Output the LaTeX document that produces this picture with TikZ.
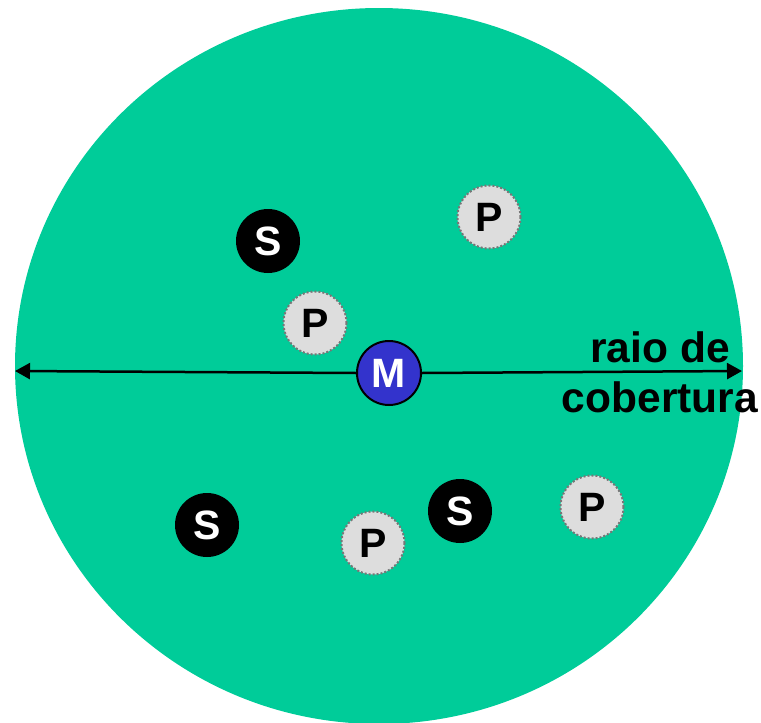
\documentclass[tikz,border=0pt]{standalone}
\usepackage{fontspec}
\setmainfont{Liberation Sans}
\usetikzlibrary{arrows.meta}
\definecolor{zone}{HTML}{00CC99}
\definecolor{mblue}{HTML}{3333CC}
\definecolor{pgray}{HTML}{DDDDDD}
\definecolor{pdot}{HTML}{777777}
\begin{document}
\begin{tikzpicture}[x=1pt,y=-1pt,
  snode/.style={circle,fill=black,minimum size=64pt,inner sep=0pt,text=white,font=\fontsize{41}{41}\selectfont\bfseries},
  pnode/.style={circle,fill=pgray,draw=pdot,dotted,line width=2pt,minimum size=63pt,inner sep=0pt,text=black,font=\fontsize{41}{41}\selectfont\bfseries},
  mnode/.style={circle,fill=mblue,draw=black,line width=2pt,minimum size=64pt,inner sep=0pt,text=white,font=\fontsize{41}{41}\selectfont\bfseries},
  radius/.style={line width=2.5pt,-{Triangle[length=15pt,width=16pt]}}]
\useasboundingbox (0,0) rectangle (761,723);
\fill[zone] (379,366) ellipse [x radius=364, y radius=358];
\coordinate (lend) at (15,371);
\coordinate (rend) at (742,371);
\node[mnode] (m) at (389,373) {M};
\draw[radius] (m.west) -- (lend);
\draw[radius] (m.east) -- (rend);
\node[snode] (s1) at (268,241) {S};
\node[snode] (s2) at (207,525) {S};
\node[snode] (s3) at (460,511) {S};
\node[pnode] (p1) at (489,217) {P};
\node[pnode] (p2) at (315,323) {P};
\node[pnode] (p3) at (373,543) {P};
\node[pnode] (p4) at (592,507) {P};
\node[anchor=north,align=center,inner sep=0pt,font=\fontsize{42.5}{50}\selectfont\bfseries] (lbl) at (660,331) {raio de\\cobertura};
\end{tikzpicture}
\end{document}
